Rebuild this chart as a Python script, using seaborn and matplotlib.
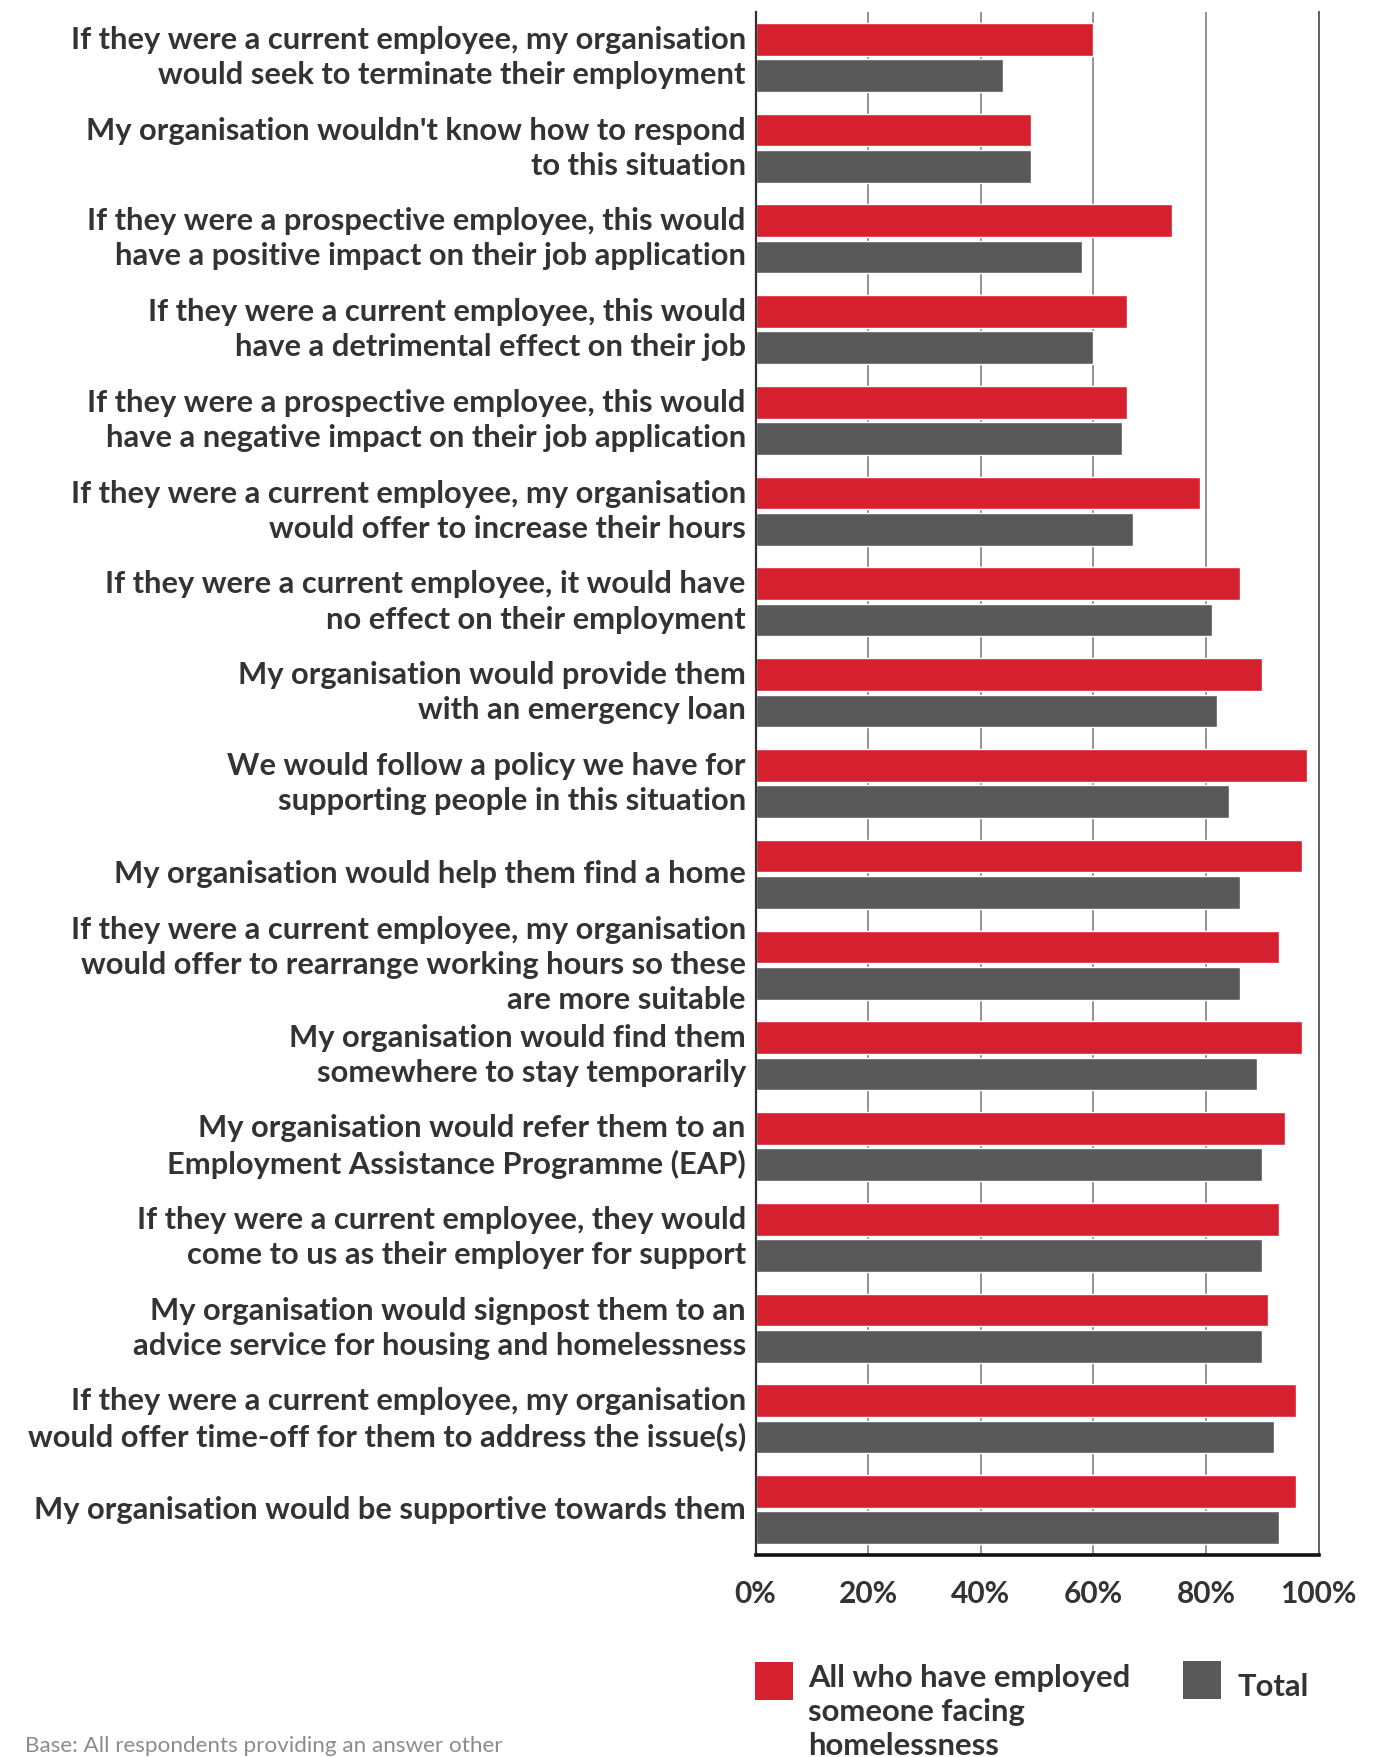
import matplotlib
matplotlib.use("Agg")
import matplotlib.pyplot as plt
from matplotlib.patches import Rectangle
import seaborn as sns
import pandas as pd

# Survey statements (top to bottom)
statements = [
    "If they were a current employee, my organisation\nwould seek to terminate their employment",
    "My organisation wouldn't know how to respond\nto this situation",
    "If they were a prospective employee, this would\nhave a positive impact on their job application",
    "If they were a current employee, this would\nhave a detrimental effect on their job",
    "If they were a prospective employee, this would\nhave a negative impact on their job application",
    "If they were a current employee, my organisation\nwould offer to increase their hours",
    "If they were a current employee, it would have\nno effect on their employment",
    "My organisation would provide them\nwith an emergency loan",
    "We would follow a policy we have for\nsupporting people in this situation",
    "My organisation would help them find a home",
    "If they were a current employee, my organisation\nwould offer to rearrange working hours so these\nare more suitable",
    "My organisation would find them\nsomewhere to stay temporarily",
    "My organisation would refer them to an\nEmployment Assistance Programme (EAP)",
    "If they were a current employee, they would\ncome to us as their employer for support",
    "My organisation would signpost them to an\nadvice service for housing and homelessness",
    "If they were a current employee, my organisation\nwould offer time-off for them to address the issue(s)",
    "My organisation would be supportive towards them",
]

# Percent agreeing, by group
employed_homeless = [60, 49, 74, 66, 66, 79, 86, 90, 98, 97, 93, 97, 94, 93, 91, 96, 96]
total = [44, 49, 58, 60, 65, 67, 81, 82, 84, 86, 86, 89, 90, 90, 90, 92, 93]

group_names = ["All who have employed someone facing homelessness", "Total"]
group_colors = ["#D6202F", "#585958"]
x_ticks = [0, 20, 40, 60, 80, 100]
x_tick_labels = ["0%", "20%", "40%", "60%", "80%", "100%"]

df = pd.DataFrame({
    "statement": statements * 2,
    "value": employed_homeless + total,
    "group": [group_names[0]] * len(statements) + [group_names[1]] * len(statements),
})

sns.set_style("white")
plt.rcParams["font.family"] = ["Lato", "DejaVu Sans"]
TEXT = "#333333"

W, H = 1396, 1757
fig = plt.figure(figsize=(W / 100, H / 100), dpi=100)
ax_left, ax_right, ax_top, ax_bottom = 755.5, 1318.7, 12, 1555
ax = fig.add_axes([ax_left / W, 1 - ax_bottom / H, (ax_right - ax_left) / W, (ax_bottom - ax_top) / H])

sns.barplot(
    data=df, x="value", y="statement", hue="group", hue_order=group_names,
    palette=group_colors, orient="h", width=0.8, gap=0.1, saturation=1,
    legend=False, ax=ax,
)

ax.set_xlim(0, 100)
ax.set_xticks(x_ticks)
ax.set_xticklabels(x_tick_labels)
ax.set_xlabel("")
ax.set_ylabel("")
ax.set_axisbelow(True)
ax.xaxis.grid(True, color="#8a8a8a", linewidth=1.3)
ax.yaxis.grid(False)

ax.spines["top"].set_visible(False)
ax.spines["left"].set_color("#333333")
ax.spines["left"].set_linewidth(1.6)
ax.spines["right"].set_color("#555555")
ax.spines["right"].set_linewidth(1.3)
ax.spines["bottom"].set_color("#111111")
ax.spines["bottom"].set_linewidth(2.6)

ax.tick_params(axis="x", length=0, pad=18, labelsize=21.5, labelcolor=TEXT)
ax.tick_params(axis="y", direction="in", length=10, width=1.6, color="#333333",
               pad=7, labelsize=22.25, labelcolor=TEXT)
for lbl in ax.get_xticklabels():
    lbl.set_fontweight("bold")
for lbl in ax.get_yticklabels():
    lbl.set_fontweight("bold")
    lbl.set_linespacing(1.31)
    lbl.set_verticalalignment("center")

# Legend, drawn in figure pixel space
def fx(px):
    return px / W

def fy(py):
    return 1 - py / H

fig.add_artist(Rectangle((fx(755), fy(1700)), 38 / W, 38 / H, transform=fig.transFigure,
                         facecolor=group_colors[0], edgecolor="none"))
fig.text(fx(808), fy(1664), "All who have employed\nsomeone facing\nhomelessness",
         ha="left", va="top", fontsize=22.3, fontweight="bold", color=TEXT, linespacing=1.27)
fig.add_artist(Rectangle((fx(1183), fy(1699)), 38 / W, 38 / H, transform=fig.transFigure,
                         facecolor=group_colors[1], edgecolor="none"))
fig.text(fx(1238), fy(1687), "Total", ha="left", va="center", fontsize=22.3,
         fontweight="bold", color=TEXT)

fig.text(fx(25), fy(1746), "Base: All respondents providing an answer other",
         ha="left", va="center", fontsize=16.2, fontweight="normal", color="#8c8c8c")

fig.savefig("out.png", dpi=100, facecolor="white")
